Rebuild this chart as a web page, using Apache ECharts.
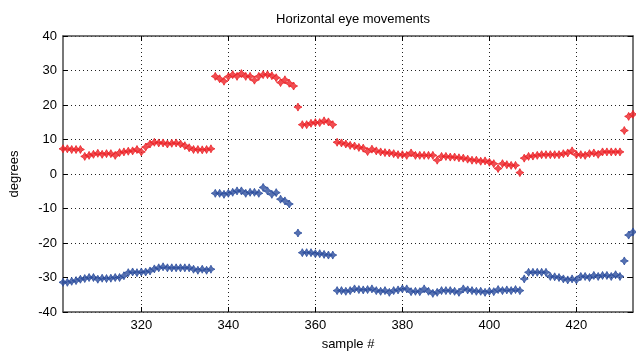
<!DOCTYPE html>
<html>
<head>
<meta charset="utf-8">
<script src="https://cdn.jsdelivr.net/npm/echarts@6/dist/echarts.min.js"></script>
<style>
  html, body { margin: 0; padding: 0; background: #fff; }
  #chart { width: 636px; height: 356px; }
</style>
</head>
<body>
<div id="chart"></div>
<script>
// sample numbers run from firstSample to lastSample, one value per sample
const firstSample = 302
const lastSample = 433
const xTicks = [320, 340, 360, 380, 400, 420]
const yTicks = [-40, -30, -20, -10, 0, 10, 20, 30, 40]

// red: upper trace
const redValues = [
    7.3, 7.3, 7.1, 7.1, 7.1,
    5.1, 5.4, 5.7, 6.0, 5.7, 5.9, 5.9, 5.4, 6.2, 6.4,
    6.6, 6.7, 7.1, 6.4, 7.8, 8.7, 9.2, 9.0, 9.0, 8.7,
    8.9, 9.0, 8.7, 8.2, 7.6, 7.1, 7.1, 7.0, 7.1, 7.3,
    28.3, 27.6, 26.9, 28.2, 28.8, 28.3, 29.1, 28.3, 28.3, 27.2,
    28.3, 28.8, 28.8, 28.5, 27.9, 26.5, 27.3, 26.3, 25.5, 19.4,
    14.3, 14.3, 14.7, 14.9, 14.9, 15.4, 15.1, 14.3, 9.2, 9.0,
    8.7, 8.3, 8.1, 7.7, 7.5, 6.5, 7.2, 6.7, 6.4, 6.2,
    6.1, 5.9, 5.6, 5.6, 5.4, 6.1, 5.4, 5.4, 5.4, 5.4,
    5.4, 4.0, 5.1, 5.1, 4.9, 4.9, 4.7, 4.6, 4.3, 4.0,
    4.0, 3.7, 3.8, 3.4, 3.0, 1.6, 3.0, 2.7, 2.5, 2.5,
    0.4, 4.6, 5.1, 5.2, 5.4, 5.6, 5.6, 5.6, 5.6, 5.6,
    5.9, 6.1, 6.7, 5.6, 5.6, 5.4, 5.9, 6.1, 5.7, 6.4,
    6.4, 6.4, 6.4, 6.4, 12.6, 16.7, 17.3
]

// blue: lower trace ('-' = no sample drawn)
const blueValues = [
    -31.4, -31.4, -31.1, -30.9, -30.5,
    -30.3, -30.0, -30.0, -30.5, -30.2, -30.3, -30.2, -30.0, -30.0, -29.5,
    -28.6, -28.4, -28.6, -28.4, -28.4, -28.1, -27.5, -27.2, -26.9, -27.2,
    -27.2, -27.2, -27.2, -27.2, -27.2, -27.6, -27.9, -27.6, -27.9, -27.6,
    -5.6, -5.6, -5.9, -5.6, -5.3, -4.9, -4.9, -5.6, -5.3, -5.3,
    -5.6, -3.9, -4.9, -5.9, -5.4, -7.3, -7.8, -8.7, '-', -17.1,
    -22.8, -22.8, -22.8, -23.1, -23.1, -23.3, -23.5, -23.5, -33.8, -33.8,
    -34.0, -33.8, -33.3, -33.5, -33.6, -33.5, -33.3, -33.8, -34.0, -33.8,
    -34.3, -33.8, -33.6, -33.3, -33.3, -34.1, -34.0, -34.1, -33.3, -34.0,
    -34.6, -34.3, -33.8, -33.8, -33.8, -34.0, -34.3, -33.3, -33.6, -33.8,
    -34.0, -34.0, -34.3, -34.0, -34.1, -33.5, -33.8, -33.6, -33.8, -33.5,
    -33.8, -30.4, -28.5, -28.5, -28.5, -28.5, -28.5, -29.7, -29.8, -30.0,
    -30.4, -30.7, -30.4, -30.7, -29.7, -29.7, -30.0, -29.4, -29.7, -29.4,
    -29.4, -29.7, -29.2, -29.7, -25.2, -17.7, -16.8
]

const toPoints = (values) => values.map((v, i) => [firstSample + i, v])

const chart = echarts.init(document.getElementById('chart'), null, { renderer: 'canvas' })

const font = '"Liberation Sans", Arial, sans-serif'
const boxColor = '#4a4a4a'
const gridLine = { show: true, lineStyle: { color: '#222', type: [1, 3], width: 1 } }
// MATLAB-ish fat star marker
const marker = 'path://M4,0L5.4,2.6L8,4L5.4,5.4L4,8L2.6,5.4L0,4L2.6,2.6Z'

chart.setOption({
    animation: false,
    backgroundColor: '#fff',
    title: {
        text: 'Horizontal eye movements',
        left: 348,
        top: 8,
        textAlign: 'center',
        textStyle: { fontFamily: font, fontSize: 13, fontWeight: 'normal', color: '#000' },
    },
    grid: { left: 62, right: 3, top: 36, bottom: 41 },
    xAxis: [
        {
            type: 'value',
            min: firstSample,
            max: lastSample,
            name: 'sample #',
            nameLocation: 'middle',
            nameGap: 26,
            nameTextStyle: { fontFamily: font, fontSize: 13, color: '#000' },
            axisLine: { onZero: false, lineStyle: { color: boxColor, width: 1.5 } },
            axisTick: { inside: true, length: 5, customValues: xTicks, lineStyle: { color: '#000' } },
            axisLabel: { customValues: xTicks, fontFamily: font, fontSize: 13, color: '#000', margin: 7 },
            splitLine: gridLine,
        },
        {
            type: 'value',
            position: 'top',
            min: firstSample,
            max: lastSample,
            axisLine: { onZero: false, lineStyle: { color: boxColor, width: 1.5 } },
            axisTick: { inside: true, length: 5, customValues: xTicks, lineStyle: { color: '#000' } },
            axisLabel: { show: false },
            splitLine: { show: false },
        },
    ],
    yAxis: [
        {
            type: 'value',
            min: yTicks[0],
            max: yTicks[yTicks.length - 1],
            interval: 10,
            name: 'degrees',
            nameLocation: 'middle',
            nameGap: 42,
            nameTextStyle: { fontFamily: font, fontSize: 13, color: '#000' },
            axisLine: { show: true, onZero: false, lineStyle: { color: boxColor, width: 1.5 } },
            axisTick: { show: true, inside: true, length: 5, lineStyle: { color: '#000' } },
            axisLabel: { fontFamily: font, fontSize: 13, color: '#000', margin: 6 },
            splitLine: gridLine,
        },
        {
            type: 'value',
            position: 'right',
            min: yTicks[0],
            max: yTicks[yTicks.length - 1],
            interval: 10,
            axisLine: { show: true, onZero: false, lineStyle: { color: boxColor, width: 1.5 } },
            axisTick: { show: true, inside: true, length: 5, lineStyle: { color: '#000' } },
            axisLabel: { show: false },
            splitLine: { show: false },
        },
    ],
    series: [
        {
            name: 'red',
            type: 'scatter',
            data: toPoints(redValues),
            symbol: marker,
            symbolSize: 8,
            itemStyle: { color: '#ec2227', borderColor: '#ec2227', borderWidth: 1 },
        },
        {
            name: 'blue',
            type: 'scatter',
            data: toPoints(blueValues),
            symbol: marker,
            symbolSize: 8,
            itemStyle: { color: '#2c4d9e', borderColor: '#2c4d9e', borderWidth: 1 },
        },
    ],
})
</script>
</body>
</html>
